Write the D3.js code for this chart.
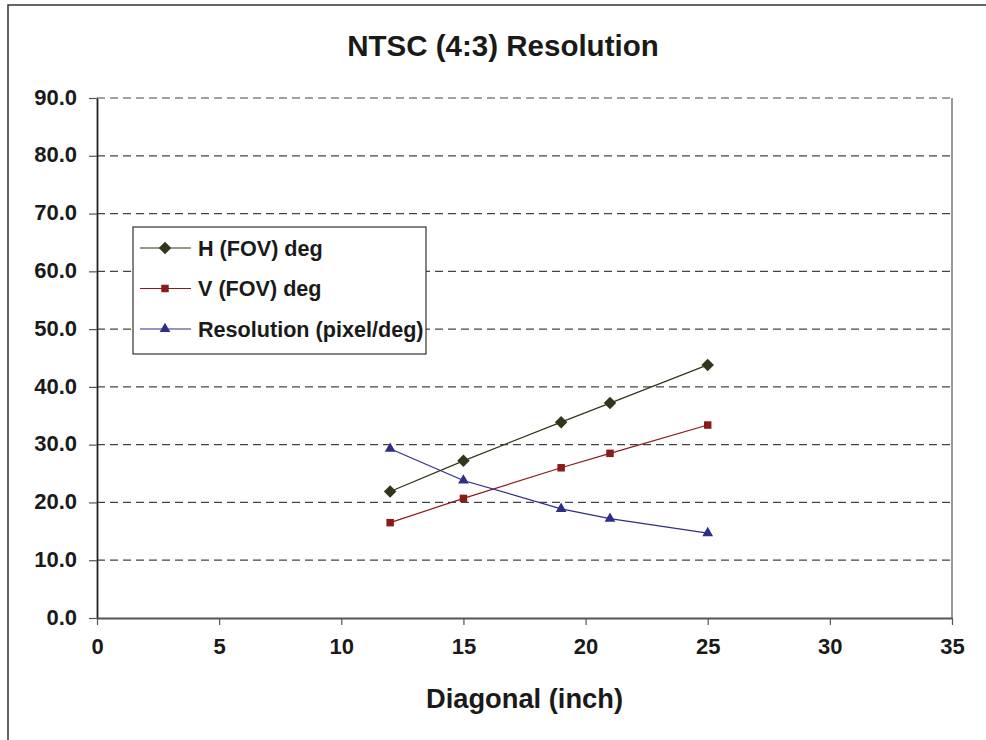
<!DOCTYPE html>
<html>
<head>
<meta charset="utf-8">
<script src="https://cdn.jsdelivr.net/npm/d3@7"></script>
<style>
  body { margin: 0; background: #fff; }
  svg { display: block; font-family: "Liberation Sans", Arial, sans-serif; }
</style>
</head>
<body>
<svg id="chart" width="986" height="740"></svg>
<script>
// chart values
const diagonals = [12, 15, 19, 21, 25];
const hFov = [21.9, 27.2, 33.9, 37.2, 43.8];
const vFov = [16.5, 20.7, 26.0, 28.5, 33.4];
const resolution = [29.3, 23.8, 18.9, 17.2, 14.7];
const seriesNames = ["H (FOV) deg", "V (FOV) deg", "Resolution (pixel/deg)"];
const yTicks = [0, 10, 20, 30, 40, 50, 60, 70, 80, 90];
const xTicks = [0, 5, 10, 15, 20, 25, 30, 35];

const svg = d3.select("#chart");
const margin = { left: 97, right: 34, top: 98, bottom: 122 };
const width = 986, height = 740;

const x = d3.scaleLinear().domain([0, 35]).range([margin.left, width - margin.right]);
const y = d3.scaleLinear().domain([0, 90]).range([height - margin.bottom, margin.top]);

// outer frame (runs off the right and bottom edge)
svg.append("rect")
    .attr("x", 8).attr("y", 5)
    .attr("width", 1000).attr("height", 800)
    .attr("fill", "none")
    .attr("stroke", "#333")
    .attr("stroke-width", 1.5);

// title
svg.append("text")
    .attr("x", 503).attr("y", 56)
    .attr("text-anchor", "middle")
    .attr("font-size", 29.5).attr("font-weight", "bold")
    .attr("fill", "#1a1a1a")
    .text("NTSC (4:3) Resolution");

// gridlines
svg.append("g").selectAll("line")
    .data(yTicks.filter(d => d > 0))
    .join("line")
    .attr("x1", x(0)).attr("x2", x(35))
    .attr("y1", d => y(d)).attr("y2", d => y(d))
    .attr("stroke", "#444")
    .attr("stroke-dasharray", "8,5")
    .attr("stroke-width", 1.2);

// right edge of plot
svg.append("line")
    .attr("x1", x(35)).attr("x2", x(35))
    .attr("y1", y(90)).attr("y2", y(0))
    .attr("stroke", "#555").attr("stroke-width", 1.2);

// axes
const yAxis = d3.axisLeft(y).tickValues(yTicks).tickFormat(d3.format(".1f"))
    .tickSizeInner(8).tickSizeOuter(0).tickPadding(12);
const xAxis = d3.axisBottom(x).tickValues(xTicks).tickFormat(d3.format("d"))
    .tickSizeInner(7).tickSizeOuter(0).tickPadding(13);

const gy = svg.append("g").attr("transform", `translate(${margin.left},0)`).call(yAxis);
const gx = svg.append("g").attr("transform", `translate(0,${y(0)})`).call(xAxis);

gy.select(".domain").attr("stroke", "#222").attr("stroke-width", 1.8);
gx.select(".domain").attr("stroke", "#555").attr("stroke-width", 1.8);
gy.selectAll(".tick line").attr("stroke", "#555").attr("stroke-width", 1.2);
gx.selectAll(".tick line").attr("stroke", "#555").attr("stroke-width", 1.2);
[gx, gy].forEach(g => g.selectAll("text")
    .attr("font-size", 22).attr("font-weight", "bold")
    .attr("font-family", "'Liberation Sans', Arial, sans-serif")
    .attr("fill", "#1a1a1a"));
gy.selectAll("text").attr("dy", "0.28em");

// axis title
svg.append("text")
    .attr("x", (x(0) + x(35)) / 2).attr("y", 708)
    .attr("text-anchor", "middle")
    .attr("font-size", 27.3).attr("font-weight", "bold")
    .attr("fill", "#1a1a1a")
    .text("Diagonal (inch)");

// series (diamond = square turned 45 degrees)
const series = [
    { name: seriesNames[0], values: hFov, color: "#33351a", symbol: d3.symbolSquare, size: 78, rot: 45 },
    { name: seriesNames[1], values: vFov, color: "#8b1a1a", symbol: d3.symbolSquare, size: 56, rot: 0 },
    { name: seriesNames[2], values: resolution, color: "#2e2e88", symbol: d3.symbolTriangle, size: 50, rot: 0 },
];

const line = d3.line().x(d => x(d[0])).y(d => y(d[1]));

series.forEach(s => {
    const pts = diagonals.map((d, i) => [d, s.values[i]]);
    svg.append("path")
        .datum(pts)
        .attr("d", line)
        .attr("fill", "none")
        .attr("stroke", s.color)
        .attr("stroke-width", 1.2);
    svg.append("g").selectAll("path")
        .data(pts)
        .join("path")
        .attr("transform", d => `translate(${x(d[0])},${y(d[1])}) rotate(${s.rot})`)
        .attr("d", d3.symbol(s.symbol, s.size))
        .attr("fill", s.color);
});

// legend
const legend = svg.append("g");
legend.append("rect")
    .attr("x", 133).attr("y", 227)
    .attr("width", 293).attr("height", 127)
    .attr("fill", "#fff")
    .attr("stroke", "#333").attr("stroke-width", 1.2);

const rows = legend.selectAll("g.row")
    .data(series)
    .join("g")
    .attr("class", "row")
    .attr("transform", (d, i) => `translate(0,${248 + i * 40.5})`);

rows.append("line")
    .attr("x1", 140).attr("x2", 191)
    .attr("stroke", d => d.color).attr("stroke-width", 1.2);
rows.append("path")
    .attr("transform", d => `translate(165,0) rotate(${d.rot})`)
    .attr("d", d => d3.symbol(d.symbol, d.size)())
    .attr("fill", d => d.color);
rows.append("text")
    .attr("x", 198).attr("dy", "0.36em")
    .attr("font-size", 21.6).attr("font-weight", "bold")
    .attr("fill", "#1a1a1a")
    .text(d => d.name);
</script>
</body>
</html>
